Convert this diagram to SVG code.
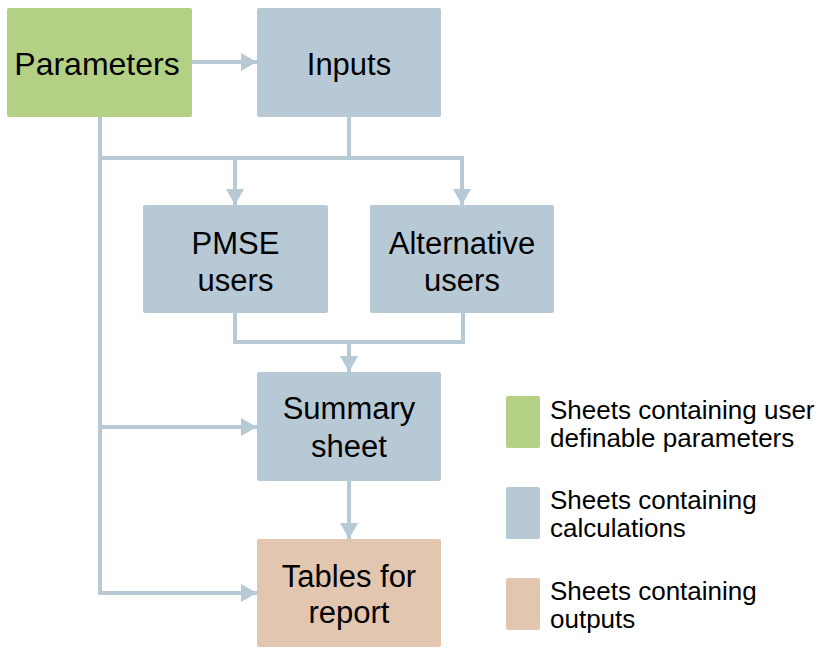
<svg xmlns="http://www.w3.org/2000/svg" width="822" height="650" viewBox="0 0 822 650">
<style>
.node text{font-family:"Liberation Sans",Arial,sans-serif;font-size:31px;fill:#000;text-anchor:middle}
.leg text{font-family:"Liberation Sans",Arial,sans-serif;font-size:26px;fill:#000}
.green{fill:#B3D084}
.blue{fill:#B8C9D6}
.tan{fill:#E2C6B0}
.conn path{fill:none;stroke:#B8C9D6;stroke-width:4}
</style>
<defs>
<marker id="arr" markerUnits="userSpaceOnUse" markerWidth="16" markerHeight="18" refX="16" refY="9" orient="auto">
<path d="M0,0 L16,9 L0,18 z" fill="#B8C9D6"/>
</marker>
</defs>
<rect width="822" height="650" fill="#fff"/>
<g class="conn" id="connectors">
<path d="M192,62 H257" marker-end="url(#arr)"/>
<path d="M100,117 V593 H257" marker-end="url(#arr)"/>
<path d="M100,427 H257" marker-end="url(#arr)"/>
<path d="M349,117 V158"/>
<path d="M100,158 H462 V205" marker-end="url(#arr)"/>
<path d="M235,158 V205" marker-end="url(#arr)"/>
<path d="M235,313 V342 H463 V313"/>
<path d="M349,342 V372" marker-end="url(#arr)"/>
<path d="M349,481 V539" marker-end="url(#arr)"/>
</g>
<g class="node" id="parameters">
<rect class="green" x="7" y="8" width="185" height="109" rx="2"/>
<text x="97" y="75" style="font-size:32px">Parameters</text>
</g>
<g class="node" id="inputs">
<rect class="blue" x="257" y="8" width="184" height="109" rx="2"/>
<text x="349" y="75">Inputs</text>
</g>
<g class="node" id="pmse">
<rect class="blue" x="143" y="205" width="185" height="108" rx="2"/>
<text x="235.5" y="254">PMSE</text>
<text x="235.5" y="291">users</text>
</g>
<g class="node" id="alternative">
<rect class="blue" x="370" y="205" width="184" height="108" rx="2"/>
<text x="462" y="254">Alternative</text>
<text x="462" y="291">users</text>
</g>
<g class="node" id="summary">
<rect class="blue" x="257" y="372" width="184" height="109" rx="2"/>
<text x="349" y="419">Summary</text>
<text x="349" y="457">sheet</text>
</g>
<g class="node" id="tables">
<rect class="tan" x="257" y="539" width="184" height="108" rx="2"/>
<text x="349" y="587">Tables for</text>
<text x="349" y="623">report</text>
</g>
<g class="leg" id="legend">
<rect class="green" x="506" y="396" width="34" height="52" rx="2"/>
<text x="550" y="419">Sheets containing user</text>
<text x="550" y="447">definable parameters</text>
<rect class="blue" x="506" y="487" width="34" height="52" rx="2"/>
<text x="550" y="509">Sheets containing</text>
<text x="550" y="537">calculations</text>
<rect class="tan" x="506" y="578" width="34" height="52" rx="2"/>
<text x="550" y="600">Sheets containing</text>
<text x="550" y="628">outputs</text>
</g>
</svg>
